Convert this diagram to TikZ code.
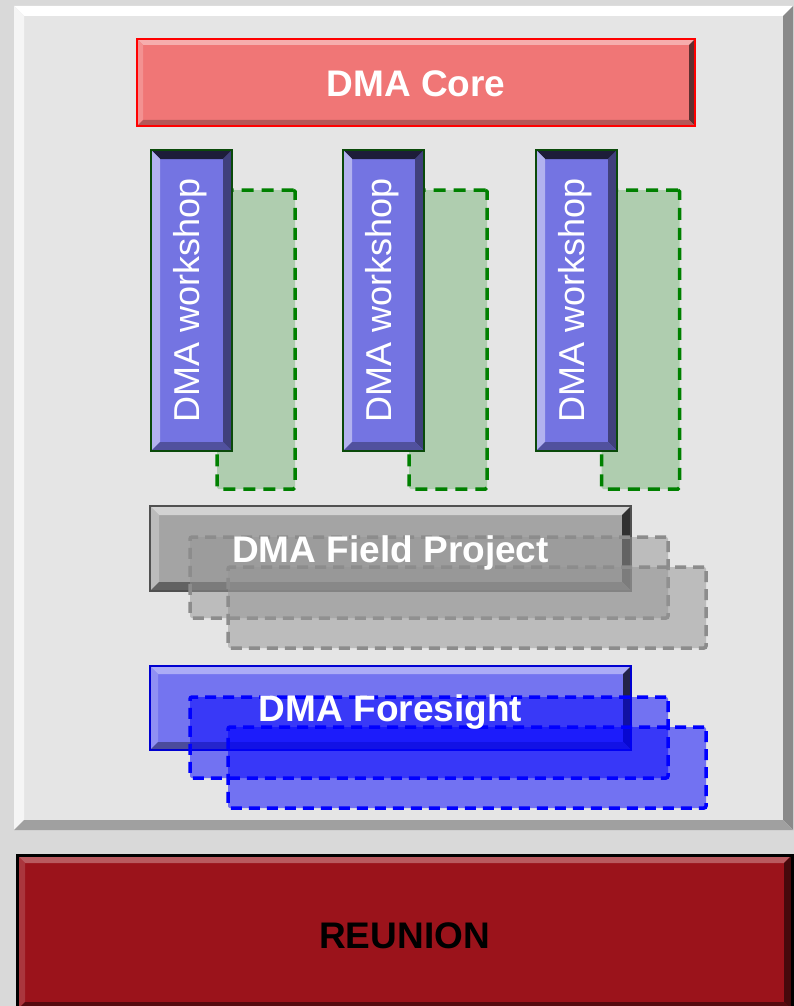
\documentclass[tikz,border=0pt]{standalone}
\usepackage{fontspec}
\setmainfont{Liberation Sans}
\definecolor{bg}{HTML}{D9D9D9}
\definecolor{panelfill}{HTML}{E5E5E5}
\definecolor{corefill}{HTML}{F07676}
\definecolor{wsfill}{HTML}{7474E2}
\definecolor{wsborder}{HTML}{0A4A0A}
\definecolor{greenfill}{HTML}{AFCDAF}
\definecolor{greenline}{HTML}{008000}
\definecolor{fieldfill}{HTML}{A4A4A4}
\definecolor{fieldline}{HTML}{505050}
\definecolor{grayd}{HTML}{959595}
\definecolor{grayline}{HTML}{8C8C8C}
\definecolor{forefill}{HTML}{7474F0}
\definecolor{foreline}{HTML}{0000D0}
\definecolor{reufill}{HTML}{9B131B}
\tikzset{
  x=1pt, y=-1pt,
  bevel/.style n args={5}{path picture={
    \fill[#2] (path picture bounding box.north west) -- (path picture bounding box.north east) -- ([xshift=-#1,yshift=-#1]path picture bounding box.north east) -- ([xshift=#1,yshift=-#1]path picture bounding box.north west) -- cycle;
    \fill[#3] (path picture bounding box.north west) -- ([xshift=#1,yshift=-#1]path picture bounding box.north west) -- ([xshift=#1,yshift=#1]path picture bounding box.south west) -- (path picture bounding box.south west) -- cycle;
    \fill[#4] (path picture bounding box.north east) -- ([xshift=-#1,yshift=-#1]path picture bounding box.north east) -- ([xshift=-#1,yshift=#1]path picture bounding box.south east) -- (path picture bounding box.south east) -- cycle;
    \fill[#5] (path picture bounding box.south west) -- ([xshift=#1,yshift=#1]path picture bounding box.south west) -- ([xshift=-#1,yshift=#1]path picture bounding box.south east) -- (path picture bounding box.south east) -- cycle;
  }},
  box/.style 2 args={rectangle, inner sep=0pt, outer sep=0pt, minimum width=#1, minimum height=#2},
  big/.style={font=\fontsize{37}{40}\selectfont\bfseries},
  wstext/.style={font=\fontsize{36}{40}\selectfont, text=white, rotate=90},
  wsbar/.style={box={81pt}{301pt}, fill=wsfill, draw=wsborder, line width=2.5pt,
    bevel={9pt}{black!75!wsfill}{wsfill!55!white}{wsfill!55!black}{wsfill!70!black}},
  greendash/.style={box={78pt}{299pt}, fill=greenfill, draw=greenline, line width=3.5pt,
    dash pattern=on 12pt off 8pt, rounded corners=1.5pt},
  graydash/.style={box={478pt}{81pt}, fill=grayd, fill opacity=0.5, draw=grayline, draw opacity=1,
    line width=3.5pt, dash pattern=on 11pt off 7pt, rounded corners=2pt},
  bluedash/.style={box={478pt}{81pt}, fill=blue, fill opacity=0.5, draw=blue, draw opacity=1,
    line width=3.5pt, dash pattern=on 11pt off 7pt, rounded corners=2pt},
}
\begin{document}
\begin{tikzpicture}
\useasboundingbox (0,0) rectangle (794,1006);
\fill[bg] (0,0) rectangle (794,1006);
% panel
\node[box={779pt}{824pt}, fill=panelfill, bevel={10pt}{white}{white!60!panelfill}{black!40!panelfill}{black!30!panelfill}]
  (panel) at (403.5,418) {};
% DMA Core
\node[box={558pt}{87pt}, fill=corefill, draw=red, line width=2.5pt,
  bevel={6pt}{corefill!60!white}{corefill!80!white}{corefill!40!black}{corefill!75!black}]
  (core) at (416,82.5) {};
% green dashed boxes (behind workshops)
\node[greendash] (gs1) at (256,339.5) {};
\node[greendash] (gs2) at (448,339.5) {};
\node[greendash] (gs3) at (640.5,339.5) {};
% workshop bars
\node[wsbar] (ws1) at (191.5,300.5) {};
\node[wsbar] (ws2) at (383.5,300.5) {};
\node[wsbar] (ws3) at (576.5,300.5) {};
% field project
\node[box={481pt}{85pt}, fill=fieldfill, draw=fieldline, line width=2pt,
  bevel={9pt}{fieldfill!50!white}{fieldfill!75!white}{fieldfill!30!black}{fieldfill!60!black}]
  (field) at (390.5,548.5) {};
\node[graydash] (fd1) at (429,577.5) {};
\node[graydash] (fd2) at (467,607.5) {};
% foresight
\node[box={481pt}{84pt}, fill=forefill, draw=foreline, line width=2.5pt,
  bevel={8pt}{forefill!60!white}{forefill!80!white}{forefill!30!black}{forefill!65!black}]
  (fore) at (390.5,708) {};
\node[bluedash] (fo1) at (429,737.5) {};
\node[bluedash] (fo2) at (467,767.5) {};
% reunion
\node[box={775pt}{155pt}, fill=reufill, draw=black, line width=3pt,
  bevel={8pt}{reufill!70!white}{reufill!85!white}{reufill!45!black}{reufill!55!black}]
  (reunion) at (404.5,932.5) {};
% texts
\node[big, text=white] (coretext) at ([yshift=-1pt]core.center) {DMA Core};
\node[wstext] (ws1text) at ([xshift=-1pt]ws1.center) {DMA workshop};
\node[wstext] (ws2text) at ([xshift=-1pt]ws2.center) {DMA workshop};
\node[wstext] (ws3text) at ([xshift=-1pt]ws3.center) {DMA workshop};
\node[big, text=white] (fieldtext) at ([yshift=-4pt]field.center) {DMA Field Project};
\node[big, text=white] (foretext) at ([yshift=-4pt]fore.center) {DMA Foresight};
\node[big, text=black] (reuniontext) at ([yshift=-3pt]reunion.center) {REUNION};
\end{tikzpicture}
\end{document}
